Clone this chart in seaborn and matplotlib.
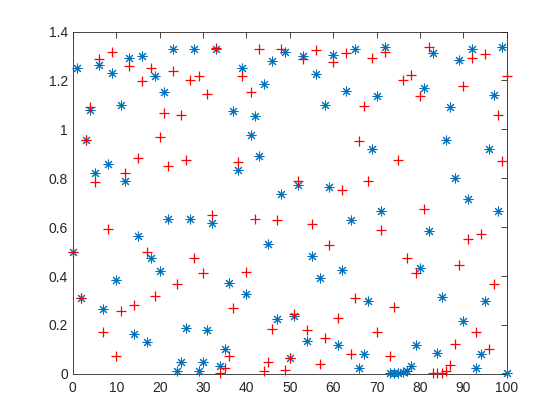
import numpy as np
import matplotlib
matplotlib.use("Agg")
import matplotlib.pyplot as plt
import seaborn as sns

# valores (x = 0..100)
x_vals = np.arange(0, 101)

y_azul = [0.500, 1.252, 0.311, 0.958, 1.080, 0.822, 1.264, 0.267, 0.858, 1.231,
          0.384, 1.098, 0.788, 1.291, 0.162, 0.563, 1.301, 0.132, 0.472, 1.219,
          0.420, 1.151, 0.635, 1.329, 0.012, 0.049, 0.186, 0.635, 1.329, 0.012,
          0.049, 0.180, 0.618, 1.329, 0.033, 0.103, 0.373, 1.076, 0.835, 1.250,
          0.325, 0.976, 1.053, 0.890, 1.186, 0.529, 1.278, 0.223, 0.737, 1.318,
          0.064, 0.237, 0.771, 1.301, 0.135, 0.482, 1.227, 0.391, 1.101, 0.765,
          1.305, 0.117, 0.423, 1.155, 0.629, 1.329, 0.022, 0.080, 0.298, 0.921,
          1.137, 0.665, 1.335, 0.003, 0.002, 0.004, 0.006, 0.010, 0.033, 0.117,
          0.431, 1.169, 0.584, 1.314, 0.084, 0.314, 0.955, 1.090, 0.801, 1.282,
          0.214, 0.713, 1.329, 0.022, 0.080, 0.298, 0.921, 1.141, 0.665, 1.335,
          0.005]

y_vermelho = [0.500, np.nan, 0.311, 0.958, 1.090, 0.786, 1.289, 0.173, 0.593, 1.318,
              0.071, 0.257, 0.822, 1.257, 0.280, 0.883, 1.196, 0.499, 1.250, 0.318,
              0.967, 1.067, 0.849, 1.237, 0.366, 1.060, 0.876, 1.203, 0.472, 1.219,
              0.414, 1.146, 0.649, 1.332, 0.005, 0.022, 0.073, 0.271, 0.865, 1.219,
              0.418, 1.151, 0.635, 1.329, 0.012, 0.049, 0.182, 0.631, 1.329, 0.017,
              0.064, 0.244, 0.788, 1.289, 0.180, 0.611, 1.325, 0.040, 0.148, 0.525,
              1.275, 0.227, 0.751, 1.312, 0.083, 0.309, 0.951, 1.094, 0.788, 1.291,
              0.173, 0.590, 1.318, 0.073, 0.275, 0.876, 1.203, 0.475, 1.223, 0.411,
              1.137, 0.672, 1.335, 0.003, 0.003, 0.005, 0.012, 0.035, 0.121, 0.444,
              1.178, 0.550, 1.291, 0.169, 0.573, 1.309, 0.103, 0.369, 1.060, 0.869,
              1.216]

x_ticks = list(range(0, 101, 10))
y_ticks = [0, 0.2, 0.4, 0.6, 0.8, 1.0, 1.2, 1.4]
y_tick_labels = ["0", "0.2", "0.4", "0.6", "0.8", "1", "1.2", "1.4"]

sns.set_style("white")
plt.rcParams["font.family"] = ["Liberation Sans", "DejaVu Sans"]

fig = plt.figure(figsize=(5.6, 4.2), dpi=100)
ax = fig.add_axes([0.13, 0.11, 0.775, 0.815])

# asteriscos azuis (estilo MATLAB '*')
sns.scatterplot(x=x_vals, y=y_azul, marker=(8, 2, 0), color="#0072BD",
                s=42, linewidth=0.75, ax=ax, zorder=3, clip_on=False)
# cruzes vermelhas
sns.scatterplot(x=x_vals, y=y_vermelho, marker="+", color="#FF0000",
                s=55, linewidth=0.9, ax=ax, zorder=4, clip_on=False)

ax.set_xlim(0, 100)
ax.set_ylim(0, 1.4)
ax.set_xticks(x_ticks)
ax.set_yticks(y_ticks)
ax.set_yticklabels(y_tick_labels)

cor_eixo = "#262626"
for lado in ax.spines.values():
    lado.set_color(cor_eixo)
    lado.set_linewidth(0.6)
ax.tick_params(direction="in", length=4, width=0.6, colors=cor_eixo,
               labelsize=10, top=True, right=True, labelcolor=cor_eixo)
ax.tick_params(axis="x", pad=5)

fig.savefig("out.png", dpi=100)
